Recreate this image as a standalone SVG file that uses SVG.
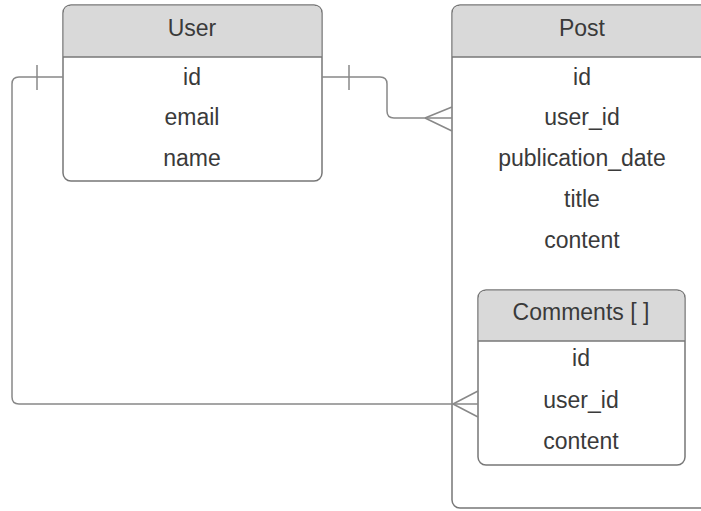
<svg xmlns="http://www.w3.org/2000/svg" width="701" height="511" viewBox="0 0 701 511">
<style>
.box{fill:#ffffff;stroke:#777777;stroke-width:1.5}
.hdr{fill:#d9d9d9;stroke:none}
.sep{stroke:#777777;stroke-width:1.5}
.t{font-family:"Liberation Sans",Arial,sans-serif;font-size:23px;fill:#3a3a3a;text-anchor:middle}
.c{fill:none;stroke:#888888;stroke-width:1.5}
</style>
<rect width="701" height="511" fill="#ffffff"/>
<g id="post">
<rect class="box" x="452" y="5" width="270" height="503" rx="8"/>
<path class="hdr" d="M452.75,57 V13 Q452.75,5.75 460,5.75 H701 V57 Z"/>
<line class="sep" x1="452" y1="57" x2="701" y2="57"/>
<text class="t" x="582" y="36">Post</text>
<text class="t" x="582" y="85">id</text>
<text class="t" x="582" y="125">user_id</text>
<text class="t" x="582" y="166">publication_date</text>
<text class="t" x="582" y="207">title</text>
<text class="t" x="582" y="248">content</text>
</g>
<g id="user">
<rect class="box" x="63" y="5" width="259" height="176" rx="8"/>
<path class="hdr" d="M63.75,57 V13 Q63.75,5.75 71,5.75 H314 Q321.25,5.75 321.25,13 V57 Z"/>
<line class="sep" x1="63" y1="57" x2="322" y2="57"/>
<text class="t" x="192" y="36">User</text>
<text class="t" x="192" y="85">id</text>
<text class="t" x="192" y="125">email</text>
<text class="t" x="192" y="166">name</text>
</g>
<g id="comments">
<rect class="box" x="478" y="290" width="207" height="175" rx="8"/>
<path class="hdr" d="M478.75,341 V298 Q478.75,290.75 486,290.75 H677 Q684.25,290.75 684.25,298 V341 Z"/>
<line class="sep" x1="478" y1="341" x2="685" y2="341"/>
<text class="t" x="581" y="320">Comments [ ]</text>
<text class="t" x="581" y="366">id</text>
<text class="t" x="581" y="408">user_id</text>
<text class="t" x="581" y="449">content</text>
</g>
<g id="connectors">
<path class="c" d="M322,77 H380 Q387,77 387,84 V111 Q387,118 394,118 H452"/>
<path class="c" d="M349,65 V90"/>
<path class="c" d="M425,118 L452,107 M425,118 L452,131"/>
<path class="c" d="M63,77 H19 Q12,77 12,84 V397 Q12,404 19,404 H478"/>
<path class="c" d="M37,65 V90"/>
<path class="c" d="M453,404 L478,391 M453,404 L478,417"/>
</g>
</svg>
